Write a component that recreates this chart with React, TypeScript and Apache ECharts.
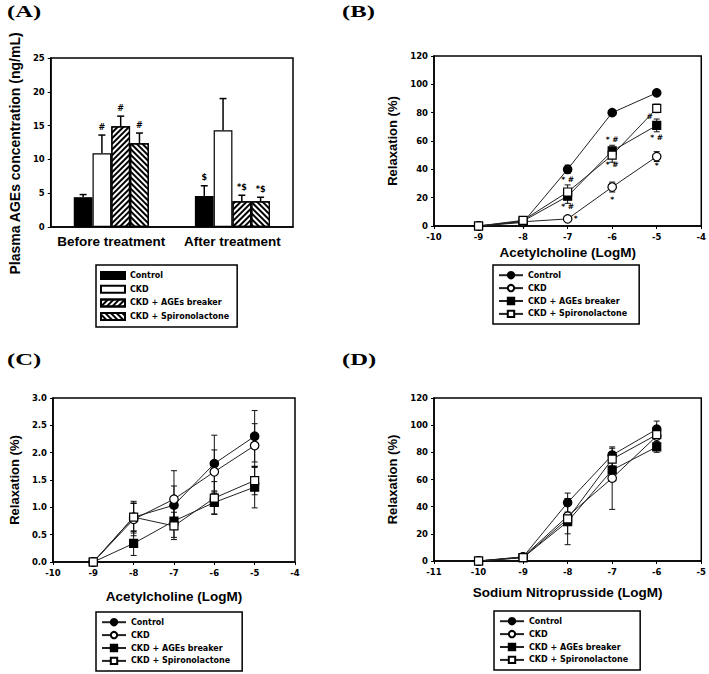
import React, { useEffect, useRef } from 'react';
import * as echarts from 'echarts';

// ---------- shared ----------
const groupNames = ['Control', 'CKD', 'CKD + AGEs breaker', 'CKD + Spironolactone'];

// ---------- (A) Plasma AGEs concentration ----------
const categoriesA = ['Before treatment', 'After treatment'];
const agesControl = [4.4, 4.6];
const agesCkd = [10.9, 14.3];
const agesBreaker = [14.9, 3.8];
const agesSpiro = [12.4, 3.8];
const agesControlErr = [0.4, 1.5];
const agesCkdErr = [2.7, 4.7];
const agesBreakerErr = [1.5, 0.9];
const agesSpiroErr = [1.5, 0.6];
const agesControlMark = ['', '$'];
const agesCkdMark = ['#', ''];
const agesBreakerMark = ['#', '*$'];
const agesSpiroMark = ['#', '*$'];

// ---------- (B) Acetylcholine relaxation ----------
const doseB = [-9, -8, -7, -6, -5];
const achControl = [0, 2.5, 40, 80, 94];
const achCkd = [0, 3, 5, 27.5, 49];
const achBreaker = [0, 3.5, 21, 53, 71];
const achSpiro = [0, 4, 24, 50, 83];
const achControlErr = [0, 0.5, 3, 2, 2];
const achCkdErr = [0, 0.5, 1, 3.5, 3.5];
const achBreakerErr = [0, 0.5, 5, 4, 4.5];
const achSpiroErr = [0, 0.5, 5, 5, 3];
const marksBX = [-7, -7, -6.82, -6, -6, -6, -5.16, -5, -5];
const marksBY = [32.5, 14, 5.6, 61.4, 43.7, 19, 77.6, 62.8, 43];
const marksBText = ['* #', '* #', '*', '* #', '* #', '*', '#', '* #', '*'];

// ---------- (C) Acetylcholine relaxation (second set) ----------
const doseC = [-9, -8, -7, -6, -5];
const ach2Control = [0, 0.82, 1.04, 1.8, 2.3];
const ach2Ckd = [0, 0.78, 1.15, 1.65, 2.13];
const ach2Breaker = [0, 0.34, 0.75, 1.09, 1.37];
const ach2Spiro = [0, 0.82, 0.66, 1.17, 1.49];
const ach2ControlErr = [0, 0.29, 0.35, 0.52, 0.47];
const ach2CkdErr = [0, 0.3, 0.52, 0.4, 0.4];
const ach2BreakerErr = [0, 0.22, 0.3, 0.21, 0.38];
const ach2SpiroErr = [0, 0.25, 0.25, 0.3, 0.26];

// ---------- (D) Sodium nitroprusside relaxation ----------
const doseD = [-10, -9, -8, -7, -6];
const snpControl = [0, 3, 43, 78, 97];
const snpCkd = [0, 3, 33, 61, 92];
const snpBreaker = [0, 2.5, 29, 67, 84];
const snpSpiro = [0, 2.5, 31, 75, 93];
const snpControlErr = [0, 1, 7, 5, 6];
const snpCkdErr = [0, 1, 13, 23, 5];
const snpBreakerErr = [0, 1, 17, 6, 4];
const snpSpiroErr = [0, 1, 4, 5, 6];

// ---------- styles ----------
const SANS = '"Liberation Sans", Arial, sans-serif';
const WIDE = '"DejaVu Sans", sans-serif';
const SERIF = '"Liberation Serif", "Times New Roman", serif';
const INK = '#000';
const BAR_CATEGORY_GAP = 0.38;

const tickLabel = { color: INK, fontFamily: WIDE, fontWeight: 'bold', fontSize: 8.5 };
const legendText = { color: INK, fontFamily: WIDE, fontWeight: 'bold', fontSize: 8 };

const lineMarkers = [
  { symbol: 'circle', fill: '#000', size: 8.5 },
  { symbol: 'circle', fill: '#fff', size: 8.5 },
  { symbol: 'rect', fill: '#000', size: 8 },
  { symbol: 'rect', fill: '#fff', size: 8 },
];

const stripe = (rotation: number) => ({
  symbol: 'rect',
  symbolSize: 1,
  color: '#000',
  backgroundColor: '#fff',
  dashArrayX: [1, 0],
  dashArrayY: [1.6, 1.6],
  rotation,
});

const barLooks = [
  { color: '#000' },
  { color: '#fff' },
  { color: '#fff', decal: stripe(-Math.PI / 4) },
  { color: '#fff', decal: stripe(Math.PI / 4) },
];

function panelLabel(text: string, x: number, y: number) {
  return {
    type: 'text',
    x,
    y,
    scaleX: 1.45,
    style: { text, fontFamily: SERIF, fontWeight: 'bold', fontSize: 17, fill: INK, verticalAlign: 'top' },
    silent: true,
  };
}

function errorBars(xs: number[], ys: number[], errs: number[]) {
  return {
    type: 'custom',
    silent: true,
    z: 1,
    data: xs.map((x, i) => [x, ys[i], errs[i]]),
    renderItem: (params: any, api: any) => {
      const x = api.value(0);
      const y = api.value(1);
      const e = api.value(2);
      if (!e) return { type: 'group', children: [] };
      const top = api.coord([x, y + e]);
      const bot = api.coord([x, y - e]);
      const style = { stroke: '#111', lineWidth: 1 };
      const cap = 3;
      return {
        type: 'group',
        children: [
          { type: 'line', shape: { x1: top[0], y1: top[1], x2: bot[0], y2: bot[1] }, style },
          { type: 'line', shape: { x1: top[0] - cap, y1: top[1], x2: top[0] + cap, y2: top[1] }, style },
          { type: 'line', shape: { x1: bot[0] - cap, y1: bot[1], x2: bot[0] + cap, y2: bot[1] }, style },
        ],
      };
    },
  };
}

function markText(xs: number[], ys: number[], texts: string[]) {
  return {
    type: 'custom',
    silent: true,
    z: 5,
    data: xs.map((x, i) => [x, ys[i]]),
    renderItem: (params: any, api: any) => {
      const p = api.coord([api.value(0), api.value(1)]);
      return {
        type: 'text',
        x: p[0],
        y: p[1],
        style: {
          text: texts[params.dataIndex],
          fontFamily: WIDE,
          fontWeight: 'bold',
          fontSize: 7.5,
          fill: INK,
          align: 'center',
          verticalAlign: 'middle',
        },
      };
    },
  };
}

function lineOption(c: any) {
  const axisLine = { show: true, lineStyle: { color: INK, width: 1.5 } };
  const axisTick = { show: true, inside: false, length: 3, lineStyle: { color: INK, width: 1 } };
  const series: any[] = [];
  c.errs.forEach((e: number[], j: number) => series.push(errorBars(c.xs, c.ys[j], e)));
  c.ys.forEach((ys: number[], j: number) => {
    const m = lineMarkers[j];
    series.push({
      type: 'line',
      name: groupNames[j],
      data: c.xs.map((x: number, i: number) => [x, ys[i]]),
      symbol: m.symbol,
      symbolSize: m.size,
      showAllSymbol: true,
      z: 3 + j,
      lineStyle: { color: '#222', width: 1 },
      itemStyle: { color: m.fill, borderColor: '#000', borderWidth: 1.2 },
    });
  });
  if (c.marks) series.push(markText(c.marks.xs, c.marks.ys, c.marks.texts));
  return {
    animation: false,
    backgroundColor: '#fff',
    grid: { ...c.grid, show: true, borderColor: INK, borderWidth: 1.5, containLabel: false },
    xAxis: {
      type: 'value',
      min: c.xMin,
      max: c.xMax,
      interval: 1,
      axisLine,
      axisTick,
      splitLine: { show: false },
      axisLabel: { ...tickLabel, margin: 6 },
      name: c.xName,
      nameLocation: 'middle',
      nameGap: c.xNameGap,
      nameTextStyle: { color: INK, fontFamily: SANS, fontWeight: 'bold', fontSize: 13.5 },
    },
    yAxis: {
      type: 'value',
      min: 0,
      max: c.yMax,
      interval: c.yInterval,
      axisLine,
      axisTick,
      splitLine: { show: false },
      axisLabel: { ...tickLabel, margin: 6, formatter: c.yFmt },
      name: c.yName,
      nameLocation: 'middle',
      nameGap: c.yNameGap,
      nameTextStyle: { color: INK, fontFamily: SANS, fontWeight: 'bold', fontSize: 13 },
    },
    legend: {
      data: groupNames,
      orient: 'vertical',
      left: c.legend.left,
      top: c.legend.top,
      itemWidth: 24,
      itemHeight: 8,
      itemGap: 4.5,
      padding: [6, 12, 6, 5],
      borderColor: INK,
      borderWidth: 1.5,
      textStyle: legendText,
      selectedMode: false,
    },
    graphic: [panelLabel(c.label, c.labelX ?? 2, c.labelY ?? 3)],
    series,
  };
}

// ---------- option A ----------
const barValuesA = [agesControl, agesCkd, agesBreaker, agesSpiro];
const barErrsA = [agesControlErr, agesCkdErr, agesBreakerErr, agesSpiroErr];
const barMarksA = [agesControlMark, agesCkdMark, agesBreakerMark, agesSpiroMark];

const optionA = {
  animation: false,
  backgroundColor: '#fff',
  grid: { left: 39, top: 58, width: 254, height: 169, show: true, borderColor: INK, borderWidth: 1.5 },
  xAxis: {
    type: 'category',
    data: categoriesA,
    axisLine: { show: true, lineStyle: { color: INK, width: 1.5 } },
    axisTick: { show: false },
    axisLabel: { color: INK, fontFamily: SANS, fontWeight: 'bold', fontSize: 13.5, margin: 7, interval: 0, hideOverlap: false },
  },
  yAxis: {
    type: 'value',
    min: 0,
    max: 25,
    interval: 5,
    axisLine: { show: true, lineStyle: { color: INK, width: 1.5 } },
    axisTick: { show: true, inside: false, length: 3, lineStyle: { color: INK, width: 1 } },
    splitLine: { show: false },
    axisLabel: { ...tickLabel, margin: 6 },
    name: 'Plasma AGEs concentration (ng/mL)',
    nameLocation: 'middle',
    nameGap: 22,
    nameTextStyle: { color: INK, fontFamily: SANS, fontWeight: 'bold', fontSize: 14, padding: [0, 22, 0, 0] },
  },
  legend: {
    data: groupNames,
    orient: 'vertical',
    left: 96,
    top: 265,
    icon: 'rect',
    itemWidth: 24,
    itemHeight: 7,
    itemGap: 4.7,
    padding: [6, 8, 6, 4],
    borderColor: INK,
    borderWidth: 1.5,
    textStyle: legendText,
    selectedMode: false,
  },
  graphic: [panelLabel('(A)', 7, 3)],
  series: [
    ...barValuesA.map((vals, j) => ({
      type: 'bar',
      name: groupNames[j],
      data: vals,
      barGap: '0%',
      barCategoryGap: `${BAR_CATEGORY_GAP * 100}%`,
      itemStyle: { ...barLooks[j], borderColor: '#000', borderWidth: 1.2 },
    })),
    {
      type: 'custom',
      silent: true,
      z: 4,
      data: categoriesA.map((_, i) => [i, 0]),
      renderItem: (params: any, api: any) => {
        const i = params.dataIndex;
        const band = api.size([1, 0])[0];
        const bw = (band * (1 - BAR_CATEGORY_GAP)) / 4;
        const center = api.coord([i, 0])[0];
        const children: any[] = [];
        const style = { stroke: '#000', lineWidth: 1.5 };
        barValuesA.forEach((vals, j) => {
          const cx = center + (j - 1.5) * bw;
          const baseY = api.coord([i, vals[i]])[1];
          const topY = api.coord([i, vals[i] + barErrsA[j][i]])[1];
          children.push({ type: 'line', shape: { x1: cx, y1: baseY, x2: cx, y2: topY }, style });
          children.push({ type: 'line', shape: { x1: cx - 3.5, y1: topY, x2: cx + 3.5, y2: topY }, style });
          const t = barMarksA[j][i];
          if (t) {
            children.push({
              type: 'text',
              x: cx,
              y: topY - 8,
              style: {
                text: t,
                fontFamily: WIDE,
                fontWeight: 'bold',
                fontSize: 8,
                fill: INK,
                align: 'center',
                verticalAlign: 'middle',
              },
            });
          }
        });
        return { type: 'group', children };
      },
    },
  ],
};

const optionB = lineOption({
  label: '(B)',
  grid: { left: 94, top: 56, width: 269, height: 170 },
  xMin: -10,
  xMax: -4,
  yMax: 120,
  yInterval: 20,
  xName: 'Acetylcholine (LogM)',
  xNameGap: 18,
  yName: 'Relaxation (%)',
  yNameGap: 28,
  xs: doseB,
  ys: [achControl, achCkd, achBreaker, achSpiro],
  errs: [achControlErr, achCkdErr, achBreakerErr, achSpiroErr],
  legend: { left: 153, top: 265 },
  marks: { xs: marksBX, ys: marksBY, texts: marksBText },
});

const optionC = lineOption({
  label: '(C)',
  labelX: 7,
  labelY: 21,
  grid: { left: 40, top: 68, width: 255, height: 164 },
  xMin: -10,
  xMax: -4,
  yMax: 3,
  yInterval: 0.5,
  yFmt: (v: number) => v.toFixed(1),
  xName: 'Acetylcholine (LogM)',
  xNameGap: 27,
  yName: 'Relaxation (%)',
  yNameGap: 26,
  xs: doseC,
  ys: [ach2Control, ach2Ckd, ach2Breaker, ach2Spiro],
  errs: [ach2ControlErr, ach2CkdErr, ach2BreakerErr, ach2SpiroErr],
  legend: { left: 96, top: 282 },
});

const optionD = lineOption({
  label: '(D)',
  labelY: 21,
  grid: { left: 94, top: 68, width: 268, height: 163 },
  xMin: -11,
  xMax: -5,
  yMax: 120,
  yInterval: 20,
  xName: 'Sodium Nitroprusside (LogM)',
  xNameGap: 24,
  yName: 'Relaxation (%)',
  yNameGap: 30,
  xs: doseD,
  ys: [snpControl, snpCkd, snpBreaker, snpSpiro],
  errs: [snpControlErr, snpCkdErr, snpBreakerErr, snpSpiroErr],
  legend: { left: 154, top: 281 },
});

function Chart({ option, style }: { option: any; style: React.CSSProperties }) {
  const ref = useRef<HTMLDivElement>(null);
  useEffect(() => {
    if (!ref.current) return;
    const chart = echarts.init(ref.current, undefined, { renderer: 'svg' });
    chart.setOption(option);
    return () => chart.dispose();
  }, [option]);
  return <div ref={ref} style={{ position: 'absolute', ...style }} />;
}

export default function App() {
  return (
    <div style={{ position: 'absolute', left: 0, top: 0, width: 709, height: 674, background: '#fff', overflow: 'hidden' }}>
      <Chart option={optionA} style={{ left: 0, top: 0, width: 340, height: 330 }} />
      <Chart option={optionB} style={{ left: 340, top: 0, width: 369, height: 330 }} />
      <Chart option={optionC} style={{ left: 0, top: 330, width: 340, height: 344 }} />
      <Chart option={optionD} style={{ left: 340, top: 330, width: 369, height: 344 }} />
    </div>
  );
}
